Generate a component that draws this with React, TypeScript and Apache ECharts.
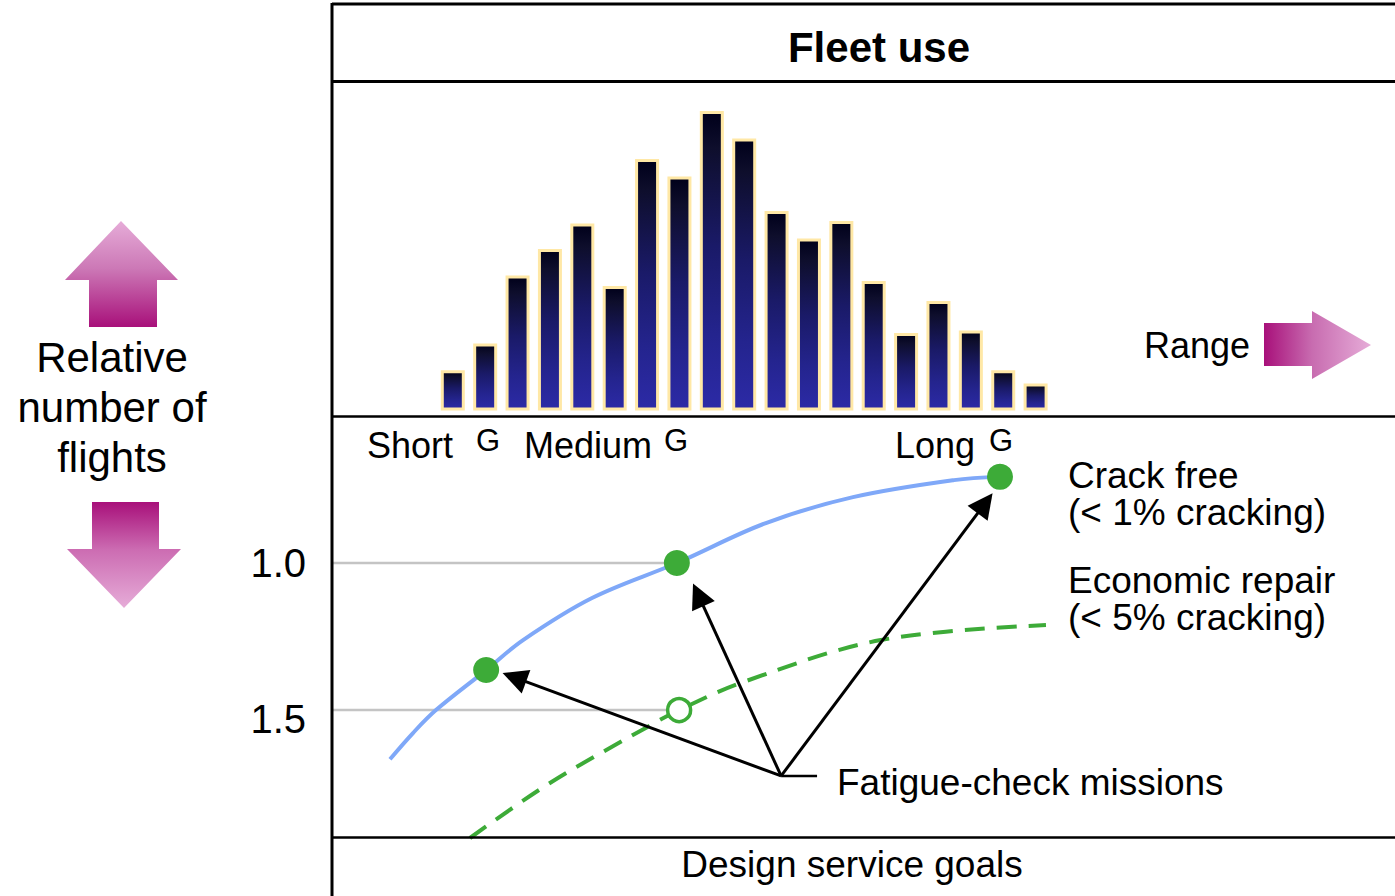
import React, { useEffect, useRef } from "react";
import * as echarts from "echarts";

// Upper panel: relative number of flights per range bin
const rangeBins = [3.7, 4.7, 5.7, 6.7, 7.7, 8.7, 9.7, 10.7, 11.7, 12.7, 13.7, 14.7, 15.7, 16.7, 17.7, 18.7, 19.7, 20.7, 21.7];
const relFlights = [13.4, 22.4, 45.1, 53.9, 62.4, 41.6, 84.0, 78.1, 100, 90.8, 66.6, 57.4, 63.3, 43.2, 25.9, 36.6, 26.7, 13.4, 9.0];

// Lower panel: design service goals curves (x = range, y = inverted scale)
const crackFree = [
  [1.76, 1.667], [2.47, 1.578], [3.18, 1.5], [4.73, 1.364], [5.87, 1.262], [8.0, 1.119],
  [10.62, 1.0], [13.37, 0.864], [16.06, 0.776], [19.18, 0.718], [20.6, 0.707],
];
const economicRepair = [
  [4.23, 1.935], [6.7, 1.748], [9.7, 1.558], [10.69, 1.5], [12.66, 1.405], [16.92, 1.262], [22.02, 1.211],
];
const missionPoints = [[4.73, 1.364], [10.62, 1.0], [20.6, 0.707]];
const openPoint = [[10.69, 1.5]];
const refLevels = [1.0, 1.5];
const refLineEnd = 10.65;
const yTicks = [1.0, 1.5];

// Annotation arrows (from the "Fatigue-check missions" hub to each mission point)
const arrowOrigin = [13.84, 1.724];
const arrowEnds = [[5.6, 1.389], [11.28, 1.108], [20.14, 0.797]];
const hubLeader = [[13.84, 1.724], [14.95, 1.724]];

const FONT = "'Liberation Sans', Arial, Helvetica, sans-serif";
const MAG = "#a8107a";
const PINK = "#e6acd8";
const GREEN = "#3dab38";

export default function App() {
  const ref = useRef<HTMLDivElement>(null);
  useEffect(() => {
    if (!ref.current) return;
    const chart = echarts.init(ref.current, null, { renderer: "svg" });

    const barGradient = new echarts.graphic.LinearGradient(0, 0, 0, 1, [
      { offset: 0, color: "#00001a" },
      { offset: 0.12, color: "#0e0e2c" },
      { offset: 0.45, color: "#1a1a68" },
      { offset: 0.75, color: "#24248e" },
      { offset: 1, color: "#2c2aa6" },
    ]);

    const txt = (text: string, x: number, y: number, size: number, extra: any = {}) => ({
      type: "text",
      x,
      y,
      silent: true,
      style: {
        text,
        font: `${extra.bold ? "bold " : ""}${size}px ${FONT}`,
        fill: "#000",
        textAlign: extra.align || "left",
        textVerticalAlign: "middle",
        lineHeight: extra.lineHeight,
      },
      z: 10,
    });
    const hline = (y: number, w = 3) => ({
      type: "line",
      silent: true,
      shape: { x1: 332, y1: y, x2: 1395, y2: y },
      style: { stroke: "#000", lineWidth: w },
      z: 5,
    });

    const option: any = {
      animation: false,
      grid: [
        { left: 333, right: 0, top: 111, bottom: 485.5 },
        { left: 333, right: 0, top: 416, bottom: 58 },
      ],
      xAxis: [
        { gridIndex: 0, type: "value", min: 0, max: 32.8, show: false },
        { gridIndex: 1, type: "value", min: 0, max: 32.8, show: false },
      ],
      yAxis: [
        { gridIndex: 0, type: "value", min: 0, max: 100, show: false },
        {
          gridIndex: 1,
          type: "value",
          inverse: true,
          min: 0.5,
          max: 1.935,
          axisLine: { show: false },
          axisTick: { show: false },
          splitLine: { show: false },
          axisLabel: {
            customValues: yTicks,
            margin: 27,
            formatter: (v: number) => (Math.abs(v - 1.5) < 1e-6 ? `{b|${v.toFixed(1)}}` : `{a|${v.toFixed(1)}}`),
            rich: {
              a: { fontSize: 40, fontFamily: FONT, color: "#000" },
              b: { fontSize: 40, fontFamily: FONT, color: "#000", padding: [18, 0, 0, 0] },
            },
          },
        },
      ],
      series: [
        {
          type: "bar",
          xAxisIndex: 0,
          yAxisIndex: 0,
          data: rangeBins.map((x, i) => [x, relFlights[i]]),
          barWidth: 24,
          itemStyle: { color: barGradient, borderColor: "#ffe8a6", borderWidth: 3 },
          silent: true,
        },
        ...refLevels.map((lv) => ({
          type: "line",
          xAxisIndex: 1,
          yAxisIndex: 1,
          data: [[0, lv], [refLineEnd, lv]],
          symbol: "none",
          lineStyle: { color: "#c4c4c4", width: 2.5 },
          silent: true,
          z: 1,
        })),
        {
          type: "line",
          xAxisIndex: 1,
          yAxisIndex: 1,
          data: crackFree,
          smooth: 0.35,
          symbol: "none",
          lineStyle: { color: "#7fa8f8", width: 4 },
          silent: true,
          z: 2,
        },
        {
          type: "line",
          xAxisIndex: 1,
          yAxisIndex: 1,
          data: economicRepair,
          smooth: 0.35,
          symbol: "none",
          lineStyle: { color: GREEN, width: 4, type: [20, 12] },
          silent: true,
          z: 2,
        },
        {
          type: "lines",
          coordinateSystem: "cartesian2d",
          xAxisIndex: 1,
          yAxisIndex: 1,
          data: arrowEnds.map((e) => ({ coords: [arrowOrigin, e] })),
          symbol: ["none", "triangle"],
          symbolSize: 25,
          lineStyle: { color: "#000", width: 3, opacity: 1, curveness: 0 },
          silent: true,
          z: 4,
        },
        {
          type: "line",
          xAxisIndex: 1,
          yAxisIndex: 1,
          data: hubLeader,
          symbol: "none",
          lineStyle: { color: "#000", width: 2.5 },
          silent: true,
          z: 4,
        },
        {
          type: "scatter",
          xAxisIndex: 1,
          yAxisIndex: 1,
          data: missionPoints,
          symbolSize: 26,
          itemStyle: { color: GREEN, opacity: 1 },
          silent: true,
          z: 6,
        },
        {
          type: "scatter",
          xAxisIndex: 1,
          yAxisIndex: 1,
          data: openPoint,
          symbolSize: 23,
          itemStyle: { color: "#fff", borderColor: GREEN, borderWidth: 3.5, opacity: 1 },
          silent: true,
          z: 6,
        },
      ],
      graphic: [
        // frame
        {
          type: "line",
          silent: true,
          shape: { x1: 332, y1: 3, x2: 332, y2: 896 },
          style: { stroke: "#000", lineWidth: 3 },
          z: 5,
        },
        hline(4),
        hline(81.5),
        hline(416.5, 2.5),
        hline(837.5, 2.5),
        // titles and labels
        txt("Fleet use", 879, 47, 42, { bold: true, align: "center" }),
        txt("Design service goals", 852, 864, 37, { align: "center" }),
        txt("Relative\nnumber of\nflights", 112, 407, 42, { align: "center", lineHeight: 50 }),
        txt("Range", 1144, 345, 36),
        txt("Short", 367, 445, 36),
        txt("G", 476, 440, 31),
        txt("Medium", 524, 445, 36),
        txt("G", 664, 440, 31),
        txt("Long", 895, 445, 36),
        txt("G", 989, 440, 31),
        txt("Crack free", 1068, 475, 37),
        txt("(< 1% cracking)", 1068, 512, 37),
        txt("Economic repair", 1068, 580, 37),
        txt("(< 5% cracking)", 1068, 617, 37),
        txt("Fatigue-check missions", 837, 782, 37),
        // pink arrows
        {
          type: "polygon",
          silent: true,
          shape: { points: [[121, 221], [178, 280], [157, 280], [157, 327], [89, 327], [89, 280], [65, 280]] },
          style: {
            fill: new echarts.graphic.LinearGradient(0, 0, 0, 1, [
              { offset: 0, color: PINK },
              { offset: 0.45, color: "#cc78b6" },
              { offset: 1, color: MAG },
            ]),
          },
        },
        {
          type: "polygon",
          silent: true,
          shape: { points: [[92, 502], [159, 502], [159, 549], [181, 549], [124, 608], [67, 549], [92, 549]] },
          style: {
            fill: new echarts.graphic.LinearGradient(0, 0, 0, 1, [
              { offset: 0, color: MAG },
              { offset: 0.45, color: "#cc6cb2" },
              { offset: 1, color: PINK },
            ]),
          },
        },
        {
          type: "polygon",
          silent: true,
          shape: { points: [[1264, 323], [1312, 323], [1312, 311], [1371, 345], [1312, 379], [1312, 366], [1264, 366]] },
          style: {
            fill: new echarts.graphic.LinearGradient(0, 0, 1, 0, [
              { offset: 0, color: MAG },
              { offset: 0.45, color: "#c86cb0" },
              { offset: 1, color: PINK },
            ]),
          },
        },
      ],
    };
    chart.setOption(option);
    return () => chart.dispose();
  }, []);
  return (
    <div
      ref={ref}
      style={{ position: "absolute", left: 0, top: 0, width: 1395, height: 896, background: "#fff" }}
    />
  );
}
